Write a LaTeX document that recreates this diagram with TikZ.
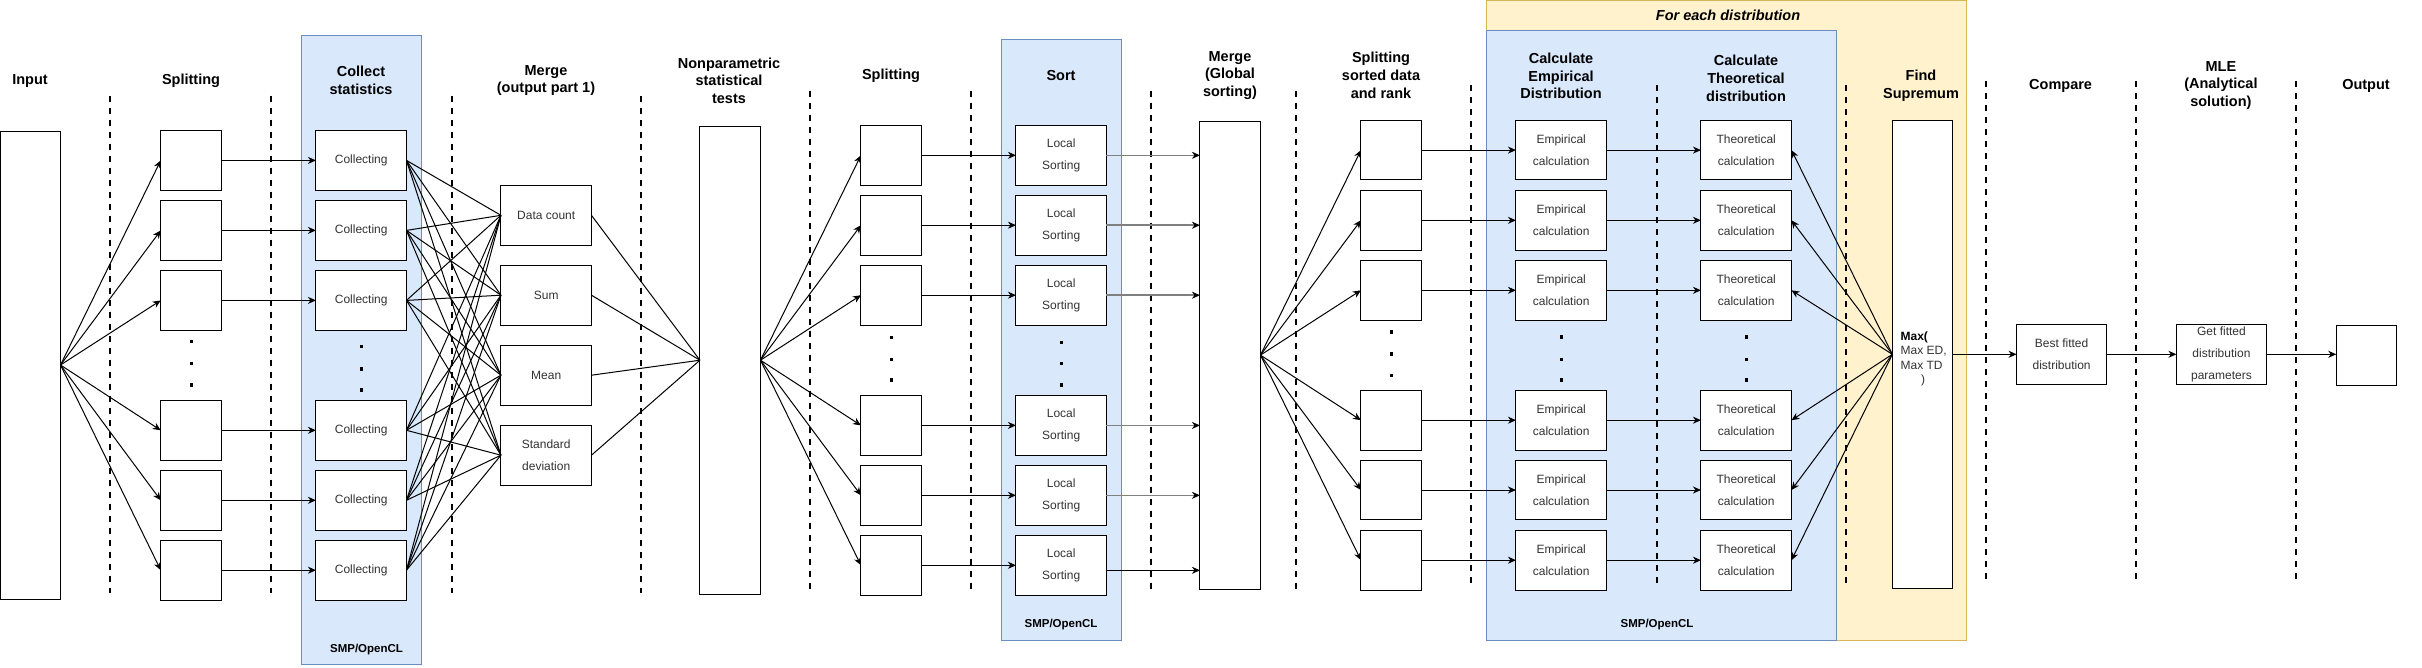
\documentclass[tikz,border=0pt]{standalone}
\usepackage{fontspec}
\setmainfont{Liberation Sans}
\usetikzlibrary{arrows.meta,calc}
\definecolor{bluefill}{HTML}{DAE8FC}
\definecolor{blueline}{HTML}{6C8EBF}
\definecolor{yelfill}{HTML}{FFF2CC}
\definecolor{yelline}{HTML}{D6B656}
\definecolor{boxtext}{HTML}{333333}
\definecolor{greyarrow}{HTML}{808080}
\begin{document}
\begin{tikzpicture}[x=1pt,y=-1pt,
  hdr/.style={font=\fontsize{14.5}{17.8}\selectfont\bfseries, align=center, inner sep=0pt, text=black},
  bx/.style={draw, line width=1pt, fill=white, inner sep=0pt, outer sep=0pt, align=center,
             font=\fontsize{12}{21.7}\selectfont, text=boxtext},
  tall/.style={bx, minimum width=60.5pt, minimum height=468pt},
  sq/.style={bx, minimum width=60.5pt, minimum height=59.6pt},
  wide/.style={bx, minimum width=90.5pt, minimum height=59.6pt},
  sep/.style={line width=2pt, dash pattern=on 6pt off 6pt},
  arr/.style={line width=1pt, -{Stealth[length=8pt,width=7pt,inset=2.5pt]}},
  garr/.style={line width=1.6pt, draw=greyarrow, -{Stealth[length=8pt,width=7pt,inset=2.5pt,color=black]}},
  ln/.style={line width=1pt},
  smp/.style={font=\fontsize{11.5}{14}\selectfont\bfseries, inner sep=0pt},
  regblue/.style={fill=bluefill, draw=blueline, line width=1pt},
  regyel/.style={fill=yelfill, draw=yelline, line width=1pt}
]
\useasboundingbox (0,0) rectangle (2422,667);
\fill[white] (0,0) rectangle (2422,667);

% ---------- background regions ----------
\draw[regyel] (1486,0.5) rectangle (1966.6,640);
\draw[regblue] (1486,30.6) rectangle (1836.5,640);
\draw[regblue] (301.3,35.3) rectangle (421.5,664.8);
\draw[regblue] (1001.3,39.6) rectangle (1121.5,640);

\node[hdr, font=\fontsize{14.5}{17.8}\selectfont\bfseries\itshape] (fed) at (1728,15.7) {For each distribution};
\node[smp] (smp1) at (366.5,649.5) {SMP/OpenCL};
\node[smp] (smp2) at (1061,624.4) {SMP/OpenCL};
\node[smp] (smp3) at (1657,624.4) {SMP/OpenCL};

% ---------- separators ----------
\foreach \x in {110,271,451.5,641} \draw[sep] (\x,95.7) -- (\x,593.4);
\foreach \x in {810,971,1151,1296} \draw[sep] (\x,90.6) -- (\x,589);
\foreach \x in {1471,1657,1846.4} \draw[sep] (\x,85) -- (\x,582.7);
\foreach \x in {1985.6,2136.4,2296.2} \draw[sep] (\x,80.8) -- (\x,578.5);

% ---------- headers ----------
\node[hdr] (h1) at (30,80.8) {Input};
\node[hdr] (h2) at (191,80.8) {Splitting};
\node[hdr] (h3) at (361,80.6) {Collect\\statistics};
\node[hdr] (h4) at (546,80.6) {Merge\\(output part 1)};
\node[hdr] (h5) at (729,80.8) {Nonparametric\\statistical\\tests};
\node[hdr] (h6) at (891,75.7) {Splitting};
\node[hdr] (h7) at (1061,75.7) {Sort};
\node[hdr] (h8) at (1230,75.5) {Merge\\(Global\\sorting)};
\node[hdr] (h9) at (1381,75.5) {Splitting\\sorted data\\and rank};
\node[hdr] (h10) at (1561,75.9) {Calculate\\Empirical\\Distribution};
\node[hdr] (h11) at (1746,78.1) {Calculate\\Theoretical\\distribution};
\node[hdr] (h12) at (1921,85.8) {Find\\Supremum};
\node[hdr] (h13) at (2060.6,85.9) {Compare};
\node[hdr] (h14) at (2220.9,85.5) {MLE\\(Analytical\\solution)};
\node[hdr] (h15) at (2366,85.9) {Output};

% ---------- boxes ----------
\node[tall, minimum width=60pt] (in) at (30.5,365) {};
% group A
\foreach \i/\y in {1/160.4,2/230.4,3/300.4,4/430.3,5/500.3,6/570.2}{
  \node[sq] (sa\i) at (191,\y) {};
  \node[wide] (ca\i) at (361.2,\y) {Collecting};
}
\node[wide] (st1) at (546.2,215.3) {Data count};
\node[wide] (st2) at (546.2,295.2) {Sum};
\node[wide] (st3) at (546.2,375.2) {Mean};
\node[wide] (st4) at (546.2,455.2) {Standard\\deviation};
\node[tall] (np) at (730.2,360.2) {};
% group B
\foreach \i/\y in {1/155.3,2/225.2,3/295.2,4/425.4,5/495.3,6/565.3}{
  \node[sq] (sb\i) at (891.2,\y) {};
  \node[wide] (so\i) at (1061.2,\y) {Local\\Sorting};
}
\node[tall] (mg) at (1230.2,355.1) {};
% group C
\foreach \i/\y in {1/150.1,2/220.3,3/290.3,4/420.2,5/490,6/560.2}{
  \node[sq] (sc\i) at (1391.2,\y) {};
  \node[wide] (em\i) at (1561.2,\y) {Empirical\\calculation};
  \node[wide] (th\i) at (1746.2,\y) {Theoretical\\calculation};
}
\node[tall, minimum width=60.3pt] (fs) at (1922.5,354.3) {};
\node[anchor=west, align=left, inner sep=0pt, text=boxtext, font=\fontsize{12}{14.5}\selectfont]
  (maxt) at (1900.4,359) {\textcolor{black}{\textbf{Max(}}\\Max ED,\\Max TD\\\hspace*{20.6pt})};
\node[wide, minimum width=90pt] (bf) at (2061.6,354.3) {Best fitted\\distribution};
\node[wide, minimum width=90pt] (gf) at (2221.4,354.3) {Get fitted\\distribution\\parameters};
\node[sq, minimum width=60.3pt] (out) at (2366.4,355.2) {};

% ---------- dots ----------
\foreach \x/\a/\b/\c in {191/341.6/363.7/385, 361/346.7/368.8/390,
                         891/337.3/359.4/379.8, 1061/342.4/363.7/385,
                         1391/331.8/353.9/375.2, 1561/336.9/359.4/379.8, 1746.5/336.9/359.4/379.8}{
  \foreach \y in {\a,\b,\c} \fill (\x-1.5,\y-1.7) rectangle (\x+1.5,\y+1.7);
}

% ---------- connectors ----------
\foreach \i in {1,...,6}{
  \draw[arr] (in.east) -- (sa\i.west);
  \draw[arr] (sa\i.east) -- (ca\i.west);
  \foreach \j in {1,...,4} \draw[ln] (ca\i.east) -- (st\j.west);
}
\foreach \j in {1,...,4} \draw[ln] (st\j.east) -- (np.west);
\foreach \i in {1,...,6}{
  \draw[arr] (np.east) -- (sb\i.west);
  \draw[arr] (sb\i.east) -- (so\i.west);
}
\foreach \i in {1,...,5} \draw[garr] (so\i.east) -- (so\i.east -| mg.west);
\coordinate (so6o) at ($(so6.east)+(0,5)$);
\draw[arr] (so6o) -- (so6o -| mg.west);
\foreach \i in {1,...,6}{
  \draw[arr] (mg.east) -- (sc\i.west);
  \draw[arr] (sc\i.east) -- (em\i.west);
  \draw[arr] (em\i.east) -- (th\i.west);
  \draw[arr] (fs.west) -- (th\i.east);
}
\draw[arr] (fs.east) -- (bf.west);
\draw[arr] (bf.east) -- (gf.west);
\draw[arr] (gf.east) -- (out.west |- gf.east);
\end{tikzpicture}
\end{document}
